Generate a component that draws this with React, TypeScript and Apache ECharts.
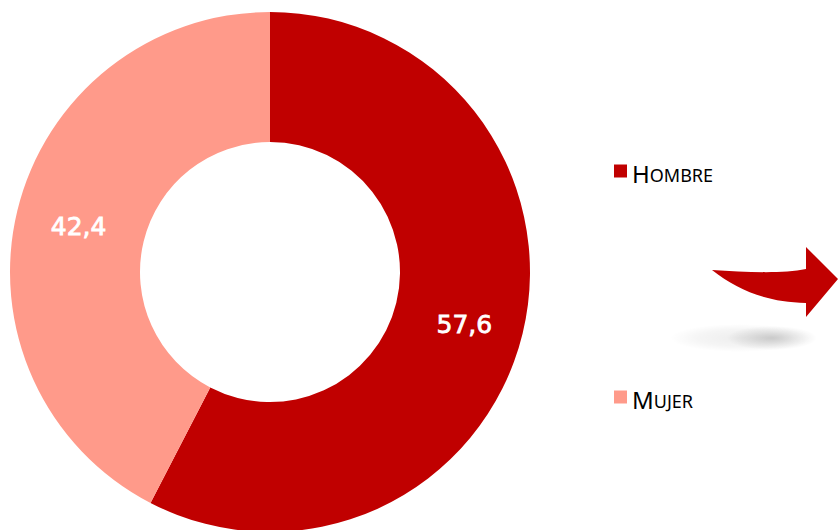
import React, { useEffect, useRef } from "react";
import * as echarts from "echarts";

const categories = ["Hombre", "Mujer"];
const values = [57.6, 42.4];
const colors = ["#C00000", "#FF9A8A"];

const ARROW_D =
  "M712,270 C745,272 782,274 806,269 L806,247 L838,279 L806,317 L806,303 C765,302 738,290 712,270 Z";

export default function App() {
  const ref = useRef<HTMLDivElement>(null);
  useEffect(() => {
    document.body.style.margin = "0";
    try {
      echarts.graphic.registerShape("arrowShape", echarts.graphic.extendPath(ARROW_D, {}) as any);
    } catch (e) {}
    const chart = echarts.init(ref.current!, null, { renderer: "svg" });
    const legendText = {
      rich: {
        a: { fontFamily: "Noto Sans", fontSize: 24, color: "#000", verticalAlign: "bottom", lineHeight: 28 },
        b: { fontFamily: "Noto Sans", fontSize: 18, color: "#000", verticalAlign: "bottom", lineHeight: 28, padding: [0, 0, 1, 0] },
      },
    };
    const fmt = (name: string) =>
      `{a|${name[0].toUpperCase()}}{b|${name.slice(1).toUpperCase()}}`;
    const shadowFill = new echarts.graphic.RadialGradient(0.5, 0.5, 0.5, [
      { offset: 0, color: "rgba(0,0,0,0.17)" },
      { offset: 0.5, color: "rgba(0,0,0,0.08)" },
      { offset: 1, color: "rgba(0,0,0,0)" },
    ]);
    const shadowFill2 = new echarts.graphic.RadialGradient(0.5, 0.5, 0.5, [
      { offset: 0, color: "rgba(0,0,0,0.07)" },
      { offset: 0.6, color: "rgba(0,0,0,0.04)" },
      { offset: 1, color: "rgba(0,0,0,0)" },
    ]);
    chart.setOption({
      animation: false,
      backgroundColor: "#fff",
      legend: [
        {
          data: [categories[0]],
          left: 609,
          top: 156,
          icon: "rect",
          itemWidth: 13,
          itemHeight: 13,
          itemGap: 8,
          formatter: fmt,
          textStyle: legendText,
          selectedMode: false,
        },
        {
          data: [categories[1]],
          left: 609,
          top: 382,
          icon: "rect",
          itemWidth: 13,
          itemHeight: 13,
          itemGap: 8,
          formatter: fmt,
          textStyle: legendText,
          selectedMode: false,
        },
      ],
      graphic: [
        {
          type: "circle",
          shape: { cx: 0, cy: 0, r: 70 },
          x: 740,
          y: 338,
          scaleY: 0.2,
          style: { fill: shadowFill2 },
          silent: true,
        },
        {
          type: "circle",
          shape: { cx: 0, cy: 0, r: 45 },
          x: 772,
          y: 338,
          scaleY: 0.27,
          style: { fill: shadowFill },
          silent: true,
        },
        {
          type: "arrowShape",
          x: 0,
          y: 0,
          style: { fill: "#C00000" },
          silent: true,
        },
      ],
      series: [
        {
          type: "pie",
          center: [270, 272],
          radius: [130, 260],
          startAngle: 90,
          clockwise: true,
          data: categories.map((c, i) => ({
            name: c,
            value: values[i],
            itemStyle: { color: colors[i] },
            label: i === 0 ? { offset: [2, 6] } : { offset: [1, 1] },
          })),
          label: {
            show: true,
            position: "inside",
            formatter: (p: any) => String(p.value).replace(".", ","),
            color: "#fff",
            fontFamily: "DejaVu Sans",
            fontWeight: "normal",
            fontSize: 25,
            textBorderColor: "#fff",
            textBorderWidth: 0.8,
          },
          labelLine: { show: false },
          itemStyle: { borderWidth: 0 },
          emphasis: { disabled: true },
        },
      ],
    });
    return () => chart.dispose();
  }, []);
  return <div ref={ref} style={{ width: 840, height: 530 }} />;
}
